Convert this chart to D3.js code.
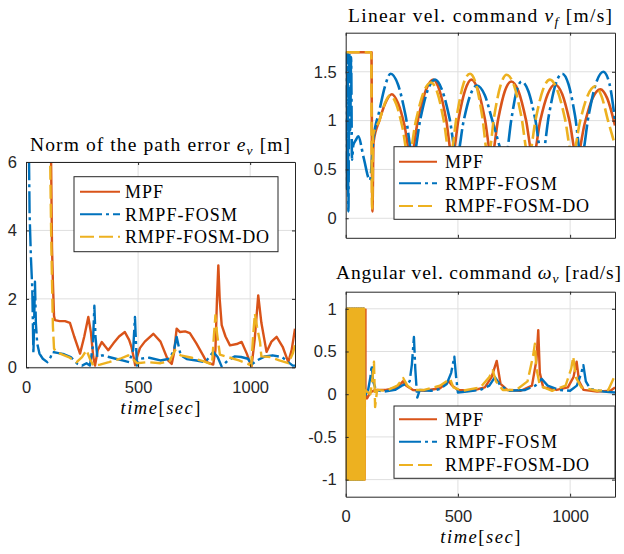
<!DOCTYPE html>
<html><head><meta charset="utf-8">
<script src="https://cdn.jsdelivr.net/npm/d3@7/dist/d3.min.js"></script>
<style>body{margin:0;background:#fff}svg{display:block}</style>
</head><body>
<script>
// ---------- data ----------
const seriesNames = ["MPF", "RMPF-FOSM", "RMPF-FOSM-DO"];
const seriesColors = ["#D95319", "#0072BD", "#EDB120"];
const seriesDash = [null, "22,4,3,4", "14,5"];
const xTicks = [0, 500, 1000];
const errYTicks = [0, 2, 4, 6];
const vfYTicks = [0, 0.5, 1, 1.5];
const wYTicks = [-1, -0.5, 0, 0.5, 1];

// Norm of path error e_v [m]  (time, value)
const errMPF = [[107,12],[112,6],[116,3.5],[120,2.5],[125,1.5],[129,1.38],[150,1.35],[174,1.35],[196,1.3],[215,0.9],[241,0.4],[260,0.9],[278,1.47],[290,1.0],[300,0.3],[308,0.05],[320,0.5],[338,0.74],[352,0.62],[367,0.5],[390,0.7],[415,0.9],[441,1.03],[460,0.8],[471,0.58],[480,0.3],[487,0.06],[495,0.3],[508,0.56],[530,0.75],[568,0.98],[600,0.75],[634,0.2],[650,0.1],[660,0.4],[672,1.13],[687,1.03],[710,1.05],[731,1.0],[760,0.7],[790,0.35],[806,0.15],[835,0.08],[845,0.5],[852,2.0],[858,2.98],[864,2.0],[873,1.23],[890,0.9],[910,0.64],[940,0.68],[962,0.74],[985,0.4],[1006,0.02],[1020,0.8],[1036,2.1],[1050,1.3],[1073,0.45],[1095,0.75],[1118,0.89],[1145,0.6],[1170,0.15],[1185,0.5],[1200,1.13]];
const errFOSM = [[0,9],[12,7],[16,4.5],[22,3.2],[28,2.3],[33,0.4],[36,1.2],[40,2.5],[44,1.3],[50,0.7],[60,0.4],[75,0.25],[95,0.15],[110,0.3],[118,0.45],[140,0.42],[170,0.38],[200,0.3],[230,0.1],[250,0.05],[270,0.12],[285,0.05],[298,0.6],[305,1.8],[310,0.9],[318,0.3],[340,0.35],[370,0.3],[400,0.25],[430,0.2],[460,0.15],[478,0.5],[486,1.47],[490,0.8],[495,0.05],[510,0.25],[550,0.28],[600,0.2],[640,0.25],[660,0.5],[672,0.89],[690,0.35],[717,0.24],[760,0.2],[800,0.15],[835,0.45],[855,0.3],[873,0.02],[900,0.2],[932,0.32],[960,0.3],[990,0.25],[1006,0.08],[1030,0.2],[1066,0.32],[1100,0.35],[1142,0.3],[1170,0.15],[1190,0.05],[1200,0.05]];
const errDO = [[105,12],[108,6],[112,4],[116,2.5],[120,1.2],[125,0.55],[135,0.45],[160,0.38],[190,0.3],[226,0.15],[250,0.3],[270,0.5],[285,0.25],[300,0.05],[330,0.08],[370,0.15],[420,0.25],[456,0.35],[475,0.25],[495,0.12],[540,0.15],[600,0.12],[640,0.18],[665,0.5],[690,0.35],[740,0.28],[790,0.18],[830,0.08],[838,0.9],[845,1.52],[852,1.0],[865,0.37],[900,0.3],[950,0.2],[990,0.1],[1005,0.05],[1012,0.8],[1021,1.57],[1030,1.2],[1044,0.74],[1050,0.32],[1090,0.3],[1130,0.2],[1170,0.12],[1190,0.4],[1200,0.65]];

// Linear velocity command v_f [m/s]
const vfMPF = [[0,1.7],[115,1.7],[117,0.6],[119,0.07],[124,0.78],[150,1.0],[175,1.17],[205,1.27],[233,1.18],[262,0.95],[290,0.62],[323,1.02],[357,1.31],[390,1.42],[418,1.31],[447,1.02],[475,0.62],[503,1.02],[532,1.31],[560,1.42],[590,1.31],[620,1.02],[650,0.62],[679,1.01],[709,1.3],[738,1.4],[770,1.3],[803,1.01],[835,0.62],[867,1.0],[900,1.27],[932,1.37],[965,1.27],[997,1.0],[1030,0.62],[1065,0.97],[1100,1.23],[1135,1.32],[1165,1.23],[1200,0.95]];
const vfFOSM = [[0,1.7],[4,0.3],[8,1.7],[12,0.07],[16,1.7],[20,0.9],[24,1.65],[28,0.6],[34,0.75],[45,0.8],[56,0.84],[80,0.62],[108,0.39],[123,0.8],[150,1.1],[175,1.35],[200,1.48],[233,1.37],[267,1.05],[300,0.62],[333,1.02],[365,1.31],[398,1.42],[430,1.31],[463,1.02],[495,0.62],[525,0.99],[555,1.26],[585,1.36],[620,1.26],[655,0.99],[712,0.62],[738,1.01],[761,1.3],[784,1.4],[814,1.3],[845,1.01],[875,0.62],[905,1.05],[935,1.37],[965,1.48],[993,1.37],[1022,1.05],[1050,0.62],[1083,1.06],[1115,1.38],[1148,1.5],[1175,1.38],[1200,1.0]];
const vfDO = [[0,1.7],[114,1.7],[116,0.5],[118,0.1],[122,0.85],[150,1.0],[175,1.18],[197,1.26],[225,1.17],[252,0.94],[280,0.62],[313,1.0],[347,1.29],[380,1.39],[408,1.29],[437,1.0],[465,0.62],[495,1.05],[524,1.37],[554,1.48],[581,1.37],[608,1.05],[635,0.62],[662,1.05],[690,1.36],[717,1.47],[750,1.36],[782,1.05],[815,0.62],[847,1.02],[878,1.31],[910,1.42],[943,1.31],[977,1.02],[1010,0.62],[1044,0.99],[1077,1.25],[1111,1.35],[1140,1.25],[1170,0.99],[1200,0.75]];

// Angular velocity command omega_v [rad/s]
const wMPF = [[0,1],[4,-1],[8,1],[12,-1],[16,1],[20,-1],[24,1],[28,-1],[32,1],[36,-1],[40,1],[44,-1],[48,1],[52,-1],[56,1],[60,-1],[64,1],[68,-1],[72,1],[76,-1],[80,1],[84,-1],[87,1],[88,0],[95,-0.05],[110,0.02],[130,0.05],[180,0.05],[230,0.08],[255,0.15],[270,0.1],[300,0.05],[350,0.04],[420,0.07],[460,0.15],[475,0.1],[500,0.05],[560,0.04],[620,0.08],[650,0.2],[673,0.39],[690,0.12],[720,0.05],[780,0.04],[830,0.1],[850,0.4],[858,0.75],[865,0.25],[880,0.08],[940,0.05],[990,0.08],[1015,0.2],[1029,0.38],[1040,0.15],[1060,0.05],[1120,0.03],[1180,0.04],[1200,0.08]];
const wFOSM = [[0,1],[4,-1],[8,1],[12,-1],[16,1],[20,-1],[24,1],[28,-1],[32,1],[36,-1],[40,1],[44,-1],[48,1],[52,-1],[56,1],[60,-1],[64,1],[68,-1],[72,1],[76,-1],[80,1],[82,0],[86,-0.02],[100,0.05],[110,0.2],[116,0.34],[122,0.15],[135,0.05],[170,0.03],[220,0.05],[250,0.1],[270,0.12],[285,0.15],[295,0.35],[304,0.67],[310,0.3],[315,0.1],[319,-0.04],[330,0.05],[380,0.04],[420,0.06],[450,0.12],[470,0.25],[484,0.44],[492,0.2],[500,0.02],[540,0.03],[600,0.05],[640,0.1],[665,0.2],[690,0.1],[730,0.04],[800,0.05],[845,0.1],[873,0.18],[900,0.1],[950,0.05],[1000,0.04],[1030,0.1],[1050,0.25],[1059,0.34],[1070,0.15],[1090,0.06],[1150,0.03],[1200,0.02]];
const wDO = [[0,-1],[2,1],[4,-1],[6,1],[8,-1],[10,1],[12,-1],[14,1],[16,-1],[18,1],[20,-1],[22,1],[24,-1],[26,1],[28,-1],[30,1],[32,-1],[34,1],[36,-1],[38,1],[40,-1],[42,1],[44,-1],[46,1],[48,-1],[50,1],[52,-1],[54,1],[56,-1],[58,1],[60,-1],[62,1],[64,-1],[66,1],[68,-1],[70,1],[72,-1],[74,1],[76,-1],[78,1],[80,-1],[82,1],[84,-1],[85,0.05],[110,0.0],[120,0.2],[126,0.38],[131,-0.15],[140,0.05],[180,0.04],[230,0.1],[256,0.19],[275,0.1],[300,0.05],[350,0.05],[420,0.1],[465,0.18],[480,0.08],[520,0.04],[600,0.08],[640,0.2],[655,0.28],[670,0.15],[700,0.05],[760,0.05],[810,0.15],[835,0.45],[843,0.59],[850,0.3],[865,0.1],[920,0.04],[980,0.1],[1005,0.3],[1014,0.44],[1025,0.2],[1050,0.08],[1120,0.04],[1170,0.05],[1200,0.22]];

// ---------- drawing ----------
const SERIF = "'Liberation Serif','Times New Roman',serif";
const SANS = "'Liberation Sans',Arial,Helvetica,sans-serif";
const AX = "#262626";
const svg = d3.select("body").append("svg").attr("width", 624).attr("height", 554);

const panels = [
  {id:"err", x0:26, x1:295, y0:162, y1:367.3, yDom:[0,6], yTicks:errYTicks,
   series:[errMPF, errFOSM, errDO], sw:2.4, curve:d3.curveLinear, solidUntil:-1, xLabels:true, xlabelY:414,
   title:[["Norm of the path error ",0],["e",1],["v",2],[" [m]",3]], titleY:151, titleX:30, titleW:260,
   legend:{x:74, y:176.7, w:204, h:75, rows:[191.7,214.3,236.7], sx0:80, sx1:120, tx:125}},
  {id:"vf", x0:345.7, x1:615, y0:32.7, y1:237.8, yDom:[-0.2,1.9], yTicks:vfYTicks,
   series:[vfMPF, vfFOSM, vfDO], sw:2.6, curve:d3.curveMonotoneX, solidUntil:-1, xLabels:false,
   title:[["Linear vel. command ",0],["v",1],["f",2],[" [m/s]",3]], titleY:21.5, titleX:348, titleW:264,
   legend:{x:394, y:146.7, w:221, h:72.6, rows:[161.7,183.3,206], sx0:399, sx1:437, tx:445}},
  {id:"w", x0:345.7, x1:615, y0:291.7, y1:496.7, yDom:[-1.2,1.2], yTicks:wYTicks,
   series:[wMPF, wFOSM, wDO], sw:2.4, curve:d3.curveLinear, solidUntil:87, xLabels:true, xlabelY:543,
   title:[["Angular vel. command ",0],["\u03C9",1],["v",2],[" [rad/s]",3]], titleY:279, titleX:336, titleW:285,
   legend:{x:394, y:406, w:221, h:72.3, rows:[419.3,441.7,465], sx0:399, sx1:437, tx:445}}
];
const legendTextW = [38, 112, 144];

panels.forEach(p => {
  const g = svg.append("g");
  const x = d3.scaleLinear().domain([0, 1200]).range([p.x0, p.x1]);
  const y = d3.scaleLinear().domain(p.yDom).range([p.y1, p.y0]);

  // grid
  g.append("g").selectAll("line").data(xTicks.filter(d => d > 0)).join("line")
    .attr("x1", d => x(d)).attr("x2", d => x(d)).attr("y1", p.y0).attr("y2", p.y1)
    .attr("stroke", "#dfdfdf").attr("stroke-width", 1);
  g.append("g").selectAll("line").data(p.yTicks).join("line")
    .attr("y1", d => y(d)).attr("y2", d => y(d)).attr("x1", p.x0).attr("x2", p.x1)
    .attr("stroke", "#dfdfdf").attr("stroke-width", 1);

  // clip + series
  const clipId = "clip-" + p.id;
  svg.append("clipPath").attr("id", clipId).append("rect")
    .attr("x", p.x0).attr("y", p.y0).attr("width", p.x1 - p.x0).attr("height", p.y1 - p.y0);
  const line = d3.line().x(d => x(d[0])).y(d => y(d[1])).curve(p.curve);
  const sg = g.append("g").attr("clip-path", `url(#${clipId})`);
  p.series.forEach((s, i) => {
    // fast switching (chattering) part rendered as a continuous band
    const head = s.filter(d => d[0] <= p.solidUntil);
    const tail = head.length ? s.slice(head.length - 1) : s;
    if (head.length > 1) {
      sg.append("path").attr("d", line(head)).attr("fill", "none")
        .attr("stroke", seriesColors[i]).attr("stroke-width", p.sw).attr("stroke-linejoin", "round");
    }
    sg.append("path").attr("d", line(tail)).attr("fill", "none")
      .attr("stroke", seriesColors[i]).attr("stroke-width", p.sw)
      .attr("stroke-linejoin", "round")
      .attr("stroke-dasharray", seriesDash[i]);
  });

  // axes
  const fmt = d => String(d);
  const styleAxis = sel => {
    sel.selectAll(".domain").attr("stroke", AX).attr("stroke-width", 1);
    sel.selectAll(".tick line").attr("stroke", AX).attr("stroke-width", 1);
    sel.selectAll("text").attr("fill", AX).style("font-family", SANS).style("font-size", "16.5px");
  };
  g.append("g").attr("transform", `translate(0,${p.y1})`)
    .call(d3.axisBottom(x).tickValues(xTicks).tickSizeInner(-3).tickSizeOuter(0).tickPadding(14)
      .tickFormat(p.xLabels ? fmt : () => ""))
    .call(styleAxis);
  g.append("g").attr("transform", `translate(0,${p.y0})`)
    .call(d3.axisTop(x).tickValues(xTicks).tickSizeInner(-3).tickSizeOuter(0).tickFormat(() => ""))
    .call(styleAxis);
  g.append("g").attr("transform", `translate(${p.x0},0)`)
    .call(d3.axisLeft(y).tickValues(p.yTicks).tickSizeInner(-3).tickSizeOuter(0).tickPadding(9).tickFormat(fmt))
    .call(styleAxis);
  g.append("g").attr("transform", `translate(${p.x1},0)`)
    .call(d3.axisRight(y).tickValues(p.yTicks).tickSizeInner(-3).tickSizeOuter(0).tickFormat(() => ""))
    .call(styleAxis);

  // title
  const cx = (p.x0 + p.x1) / 2;
  const t = g.append("text").attr("x", p.titleX).attr("y", p.titleY).attr("text-anchor", "start")
    .style("font-family", SERIF).style("font-size", "19.5px").attr("fill", "#000")
    .attr("textLength", p.titleW).attr("lengthAdjust", "spacing");
  p.title.forEach(([s, k]) => {
    const ts = t.append("tspan").text(s);
    if (k === 1) ts.style("font-style", "italic");
    if (k === 2) ts.style("font-style", "italic").style("font-size", "13.5px").attr("dy", 4);
    if (k === 3) ts.attr("dy", -4);
  });

  // x label
  if (p.xLabels) {
    const xl = g.append("text").attr("x", cx).attr("y", p.xlabelY).attr("text-anchor", "middle")
      .style("font-family", SERIF).style("font-size", "18.5px").attr("fill", "#000")
      .attr("textLength", 80).attr("lengthAdjust", "spacing");
    xl.append("tspan").text("time").style("font-style", "italic");
    xl.append("tspan").text("[");
    xl.append("tspan").text("sec").style("font-style", "italic");
    xl.append("tspan").text("]");
  }

  // legend
  const L = p.legend;
  const lg = g.append("g");
  lg.append("rect").attr("x", L.x).attr("y", L.y).attr("width", L.w).attr("height", L.h)
    .attr("fill", "#fff").attr("stroke", AX).attr("stroke-width", 1);
  seriesNames.forEach((n, i) => {
    lg.append("line").attr("x1", L.sx0).attr("x2", L.sx1).attr("y1", L.rows[i]).attr("y2", L.rows[i])
      .attr("stroke", seriesColors[i]).attr("stroke-width", 2).attr("stroke-dasharray", seriesDash[i]);
    lg.append("text").attr("x", L.tx).attr("y", L.rows[i]).attr("dy", "0.35em")
      .style("font-family", SERIF).style("font-size", "18px").attr("fill", "#000")
      .attr("textLength", legendTextW[i]).attr("lengthAdjust", "spacing").text(n);
  });
});
</script>
</body></html>
